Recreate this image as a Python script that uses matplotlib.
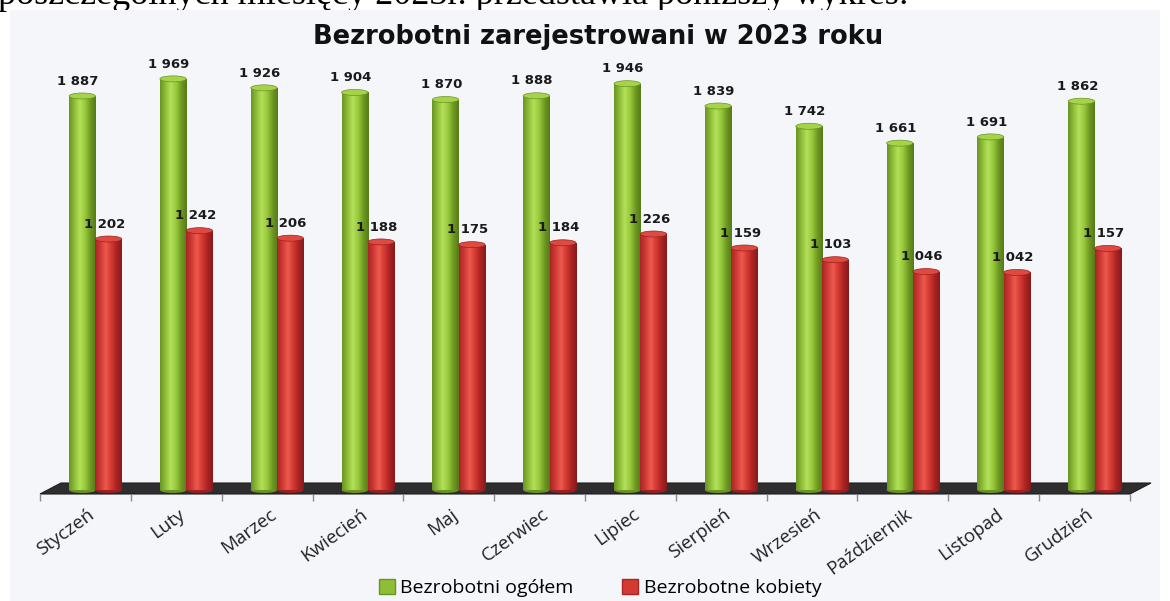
import numpy as np
import matplotlib
matplotlib.use("Agg")
import matplotlib.pyplot as plt
import matplotlib.transforms as mtrans
from matplotlib.colors import LinearSegmentedColormap
from matplotlib.patches import Ellipse, Polygon, Rectangle, Patch

months = ['Styczeń', 'Luty', 'Marzec', 'Kwiecień', 'Maj', 'Czerwiec',
          'Lipiec', 'Sierpień', 'Wrzesień', 'Październik', 'Listopad', 'Grudzień']
ogolem = [1887, 1969, 1926, 1904, 1870, 1888, 1946, 1839, 1742, 1661, 1691, 1862]
kobiety = [1202, 1242, 1206, 1188, 1175, 1184, 1226, 1159, 1103, 1046, 1042, 1157]

W, H = 1170, 601
fig = plt.figure(figsize=(W / 100, H / 100), dpi=100)
fig.patch.set_facecolor('white')

# cut-off line of document text above the chart (hidden by the chart box)
fig.text(-0.002, 1 - 4 / H, 'poszczególnych miesięcy 2023r. przedstawia poniższy wykres:',
         family='Liberation Serif', fontsize=26, va='baseline', ha='left', color='black',
         zorder=-6)

# light chart background box
fig.patches.append(Rectangle((10 / W, 0), 1150 / W, 1 - 10 / H, transform=fig.transFigure,
                             facecolor='#f4f6fa', edgecolor='none', zorder=-5))

# axes: bottom at floor front edge, 0.2088 px per unit
px = 0.2088
y_bot = -4 / px
y_top = 2060
ax_bottom_px = 494
ax_h_px = (y_top - y_bot) * px
ax = fig.add_axes([40 / W, (H - ax_bottom_px) / H, 1090 / W, ax_h_px / H])
ax.set_facecolor('none')
ax.set_xlim(-0.5, 11.5)
ax.set_ylim(y_bot, y_top)
for s in ax.spines.values():
    s.set_visible(False)
ax.set_yticks([])

x = np.arange(len(months))
ax.set_xticks(x)
ax.set_xticklabels(months, rotation=36, ha='right', rotation_mode='anchor',
                   family='Open Sans', fontsize=13.5, color='#222222')
ax.tick_params(axis='x', which='major', length=0, pad=8)
shift = mtrans.ScaledTranslation(2 / 100, 0, fig.dpi_scale_trans)
for lab in ax.get_xticklabels():
    lab.set_transform(lab.get_transform() + shift)
ax.set_xticks(np.arange(-0.5, 12, 1), minor=True)
ax.tick_params(axis='x', which='minor', length=5, color='#8a8a8a', width=1)

# floor
fl_back = 11 / px
fl_dx = 21 / 90.83
ax.add_patch(Polygon([(-0.5, y_bot), (-0.5 + fl_dx, y_bot + fl_back),
                      (11.5 + fl_dx, y_bot + fl_back), (11.5, y_bot)],
                     closed=True, facecolor='#2e2e2e', edgecolor='#1e1e1e', lw=0.8,
                     zorder=1, clip_on=False))

green_cm = LinearSegmentedColormap.from_list(
    'g', ['#6b9428', '#8ebd36', '#b4e05a', '#98c93c', '#6f9a22', '#557a18'])
red_cm = LinearSegmentedColormap.from_list(
    'r', ['#a82626', '#cf3a33', '#ec5a4e', '#d43a32', '#ac2424', '#861a1a'])

bw = 0.29
cap_h = 6 / px
grad = np.linspace(0, 1, 64).reshape(1, -1)


def cylinders(vals, off, cmap, cap_col, bottom_col):
    for xi, v in zip(x, vals):
        x0 = xi + off - bw / 2
        ax.add_patch(Ellipse((xi + off, 0), bw, cap_h, facecolor=bottom_col,
                             edgecolor='none', zorder=2))
        rect = Rectangle((x0, 0), bw, v, facecolor='none', edgecolor='none', zorder=3)
        ax.add_patch(rect)
        im = ax.imshow(grad, cmap=cmap, extent=(x0, x0 + bw, 0, v), aspect='auto',
                       interpolation='bilinear', zorder=3)
        im.set_clip_path(rect)
        ax.add_patch(Ellipse((xi + off, v), bw, cap_h, facecolor=cap_col,
                             edgecolor=bottom_col, lw=0.5, zorder=4))
        ax.annotate(f'{v // 1000} {v % 1000:03d}', (xi + off, v), xytext=(-3, 6),
                    textcoords='offset points', ha='center', va='bottom',
                    fontsize=9.5, fontweight='bold', color='#1a1a1a', zorder=5)


cylinders(ogolem, -0.035, green_cm, '#a6d448', '#6a9324')
cylinders(kobiety, 0.255, red_cm, '#df4a40', '#9a2020')
ax.set_xlim(-0.5, 11.5)
ax.set_ylim(y_bot, y_top)

fig.text(0.511, 1 - 37 / H, 'Bezrobotni zarejestrowani w 2023 roku', ha='center', va='center',
         family='DejaVu Sans', fontweight='bold', fontsize=18.5, color='#111111')

handles = [Patch(facecolor='#8ebd36', edgecolor='#6b9428', label='Bezrobotni ogółem'),
           Patch(facecolor='#d43a32', edgecolor='#a82626', label='Bezrobotne kobiety')]
fig.legend(handles=handles, loc='center', bbox_to_anchor=(0.513, 1 - 588 / H), ncol=2,
           frameon=False, prop={'family': 'Open Sans', 'size': 14},
           handlelength=0.8, handleheight=0.8, handletextpad=0.3, columnspacing=2.5)

fig.savefig('out.png', dpi=100, facecolor=fig.get_facecolor())
